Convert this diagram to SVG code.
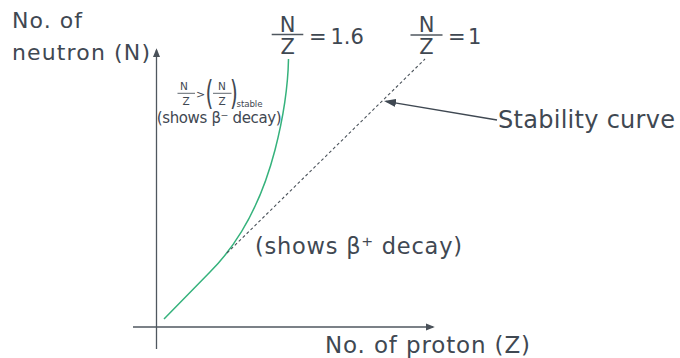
<svg xmlns="http://www.w3.org/2000/svg" width="680" height="358" viewBox="0 0 680 358">
<style>
text{font-family:"DejaVu Sans","Liberation Sans",sans-serif;fill:#3f4852}
.big{font-size:22px}
.frac{font-size:21px;text-anchor:middle}
.sm{font-size:10.5px;text-anchor:middle}
.paren{font-size:20px;text-anchor:middle}
.axis{stroke:#4f575f;stroke-width:1.3;fill:none}
.bar{stroke:#4f575f;stroke-width:1.4}
.sbar{stroke:#4f575f;stroke-width:0.9}
</style>
<defs>
<marker id="axArrow" viewBox="0 0 10 8" refX="8" refY="4" markerWidth="9" markerHeight="8" markerUnits="userSpaceOnUse" orient="auto">
<path d="M0,0 L10,4 L0,8 z" fill="#4a5159"/>
</marker>
<marker id="ptrArrow" viewBox="0 0 12 8" refX="10" refY="4" markerWidth="12" markerHeight="8" markerUnits="userSpaceOnUse" orient="auto">
<path d="M0,0 L12,4 L0,8 z" fill="#3f4852"/>
</marker>
</defs>
<g id="axes">
<line class="axis" x1="156.5" y1="349" x2="156.5" y2="50" marker-end="url(#axArrow)"/>
<line class="axis" x1="133" y1="327" x2="433" y2="327" marker-end="url(#axArrow)"/>
</g>
<g id="connectors">
<path id="curve-1-6" d="M164,319 L210,272 C240,242 262,200 275,150 C284,115 288,85 288.5,59" fill="none" stroke="#35b27c" stroke-width="1.5"/>
<line id="curve-1" x1="227" y1="253" x2="425" y2="59" stroke="#4a525a" stroke-width="1.1" stroke-dasharray="3 2.5"/>
<line id="stability-pointer" x1="497" y1="120" x2="386" y2="101.3" stroke="#3f4852" stroke-width="1.3" marker-end="url(#ptrArrow)"/>
</g>
<g id="y-label">
<text class="big" x="12" y="28.3" textLength="70">No. of</text>
<text class="big" x="12" y="60" textLength="138">neutron (N)</text>
</g>
<g id="x-label">
<text x="325" y="352.5" font-size="23" textLength="205">No. of proton (Z)</text>
</g>
<g id="label-1-6">
<text class="frac" x="287.7" y="31.8">N</text>
<line class="bar" x1="271.7" y1="34.5" x2="303.3" y2="34.5"/>
<text class="frac" x="287.7" y="53.5">Z</text>
<text x="309" y="44.3" font-size="21"><tspan x="309">=</tspan><tspan x="330.5">1.6</tspan></text>
</g>
<g id="label-1">
<text class="frac" x="426.5" y="31.8">N</text>
<line class="bar" x1="410.5" y1="35" x2="442.5" y2="35"/>
<text class="frac" x="426.5" y="53.5">Z</text>
<text x="448" y="44.3" font-size="21"><tspan x="448">=</tspan><tspan x="468">1</tspan></text>
</g>
<g id="stability-label">
<text x="498" y="128" font-size="24" textLength="177">Stability curve</text>
</g>
<g id="beta-plus">
<text x="255" y="254.3" font-size="22.5" textLength="207">(shows β⁺ decay)</text>
</g>
<g id="beta-minus">
<text class="sm" x="184" y="89.5">N</text>
<line class="sbar" x1="177.5" y1="93.3" x2="195" y2="93.3"/>
<text class="sm" x="186" y="105">Z</text>
<text x="200.5" y="98" font-size="11" text-anchor="middle">&gt;</text>
<text class="paren" transform="translate(209.3,105) scale(1,1.65)">(</text>
<text class="sm" x="222" y="89.5">N</text>
<line class="sbar" x1="213" y1="93.3" x2="231.5" y2="93.3"/>
<text class="sm" x="222" y="105">Z</text>
<text class="paren" transform="translate(234,105) scale(1,1.65)">)</text>
<text x="236.5" y="106.7" font-size="8.7" textLength="26">stable</text>
<text x="156.7" y="123.3" font-size="15" textLength="125">(shows β⁻ decay)</text>
</g>
</svg>
